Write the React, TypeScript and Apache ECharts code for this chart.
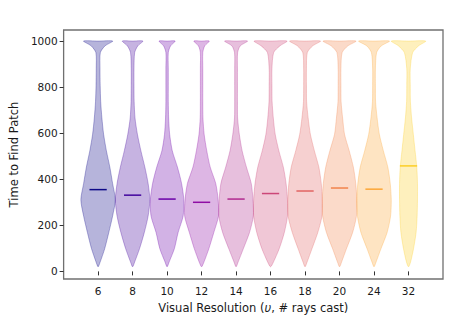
import React, { useEffect, useRef } from "react";
import * as echarts from "echarts";

const categories = ["6", "8", "10", "12", "14", "16", "18", "20", "24", "32"];
const positions = [1, 2, 3, 4, 5, 6, 7, 8, 9, 10];
const means = [355, 331, 314, 300, 314, 338, 349, 362, 357, 458];
// value levels at which violin widths are read (bottom to top)
const levels = [20, 41, 98, 169, 240, 311, 382, 453, 524, 595, 666, 737, 808, 879, 950, 979, 1000];
// relative density (1 = full violin width) at each level, per violin
const dens6 = [0, 0.12, 0.38, 0.62, 0.84, 1.0, 0.84, 0.68, 0.48, 0.32, 0.22, 0.15, 0.12, 0.11, 0.13, 0.4, 0.85];
const dens8 = [0, 0.12, 0.4, 0.68, 0.9, 1.0, 0.9, 0.71, 0.48, 0.28, 0.14, 0.09, 0.08, 0.08, 0.12, 0.3, 0.6];
const dens10 = [0, 0.12, 0.42, 0.64, 0.93, 0.97, 0.84, 0.6, 0.3, 0.15, 0.09, 0.07, 0.07, 0.07, 0.07, 0.2, 0.47];
const dens12 = [0, 0.14, 0.42, 0.71, 0.98, 0.96, 0.82, 0.5, 0.3, 0.15, 0.08, 0.07, 0.07, 0.07, 0.07, 0.18, 0.45];
const dens14 = [0, 0.12, 0.42, 0.78, 1.0, 0.98, 0.88, 0.6, 0.35, 0.19, 0.09, 0.08, 0.08, 0.08, 0.09, 0.24, 0.67];
const dens16 = [0, 0.17, 0.5, 0.8, 0.98, 0.98, 0.9, 0.74, 0.48, 0.27, 0.16, 0.09, 0.08, 0.08, 0.18, 0.54, 0.96];
const dens18 = [0, 0.12, 0.4, 0.74, 0.98, 1.0, 0.94, 0.8, 0.54, 0.31, 0.18, 0.09, 0.08, 0.08, 0.13, 0.44, 0.9];
const dens20 = [0, 0.12, 0.4, 0.76, 0.98, 1.0, 0.94, 0.8, 0.56, 0.29, 0.18, 0.09, 0.08, 0.08, 0.15, 0.48, 0.96];
const dens24 = [0, 0.12, 0.4, 0.76, 0.96, 1.0, 0.94, 0.8, 0.54, 0.31, 0.18, 0.09, 0.08, 0.08, 0.15, 0.42, 0.9];
const dens32 = [0, 0.12, 0.29, 0.44, 0.5, 0.52, 0.52, 0.48, 0.38, 0.28, 0.18, 0.11, 0.1, 0.1, 0.24, 0.58, 1.0];
const densities = [dens6, dens8, dens10, dens12, dens14, dens16, dens18, dens20, dens24, dens32];
const colors = ["#0d0887", "#41049d", "#6a00a8", "#8f0da4", "#b12a90", "#cc4778", "#e16462", "#f2844b", "#fca636", "#fcce25"];
const yTicks = [0, 200, 400, 600, 800, 1000];

function rgba(hex: string, a: number) {
  const n = parseInt(hex.slice(1), 16);
  return `rgba(${(n >> 16) & 255},${(n >> 8) & 255},${n & 255},${a})`;
}

const FONT = "DejaVu Sans";
const TEXT = "#1a1a1a";
const FS = 10.5;
const NFS = 11.5;

export default function App() {
  const ref = useRef<HTMLDivElement>(null);
  useEffect(() => {
    if (!ref.current) return;
    const chart = echarts.init(ref.current, undefined, { renderer: "svg" });
    const option: any = {
      animation: false,
      grid: { left: 62, right: 31, top: 30, bottom: 36, show: true, borderColor: "#707070", borderWidth: 1.3, backgroundColor: "transparent" },
      xAxis: {
        type: "value",
        min: 0,
        max: 11,
        axisLine: { show: false },
        splitLine: { show: false },
        axisTick: { show: true, customValues: positions, length: 4, lineStyle: { color: "#333" } },
        axisLabel: {
          customValues: positions,
          formatter: (v: number) => categories[Math.round(v) - 1] ?? "",
          fontFamily: FONT,
          fontSize: FS,
          color: TEXT,
          margin: 6,
        },
        name: "{a|Visual Resolution (}{b|υ}{a|, # rays cast)}",
        nameLocation: "middle",
        nameGap: 23,
        nameTextStyle: {
          rich: {
            a: { fontFamily: FONT, fontSize: NFS, color: TEXT },
            b: { fontFamily: FONT, fontSize: NFS, color: TEXT, fontStyle: "italic" },
          },
        },
      },
      yAxis: {
        type: "value",
        min: -33,
        max: 1048,
        axisLine: { show: false },
        splitLine: { show: false },
        axisTick: { show: true, customValues: yTicks, length: 4, lineStyle: { color: "#333" } },
        axisLabel: {
          customValues: yTicks,
          formatter: (v: number) => String(v),
          fontFamily: FONT,
          fontSize: FS,
          color: TEXT,
          margin: 6,
        },
        name: "Time to Find Patch",
        nameLocation: "middle",
        nameGap: 42,
        nameTextStyle: { fontFamily: FONT, fontSize: NFS, color: TEXT },
      },
      series: [
        {
          type: "custom",
          data: positions.map((p, i) => [p, means[i]]),
          renderItem: (params: any, api: any) => {
            const i = params.dataIndex;
            const pos = api.value(0);
            const d = densities[i];
            const col = colors[i];
            const right: number[][] = [];
            const left: number[][] = [];
            for (let k = 0; k < levels.length; k++) {
              right.push(api.coord([pos + 0.5 * d[k], levels[k]]));
              left.push(api.coord([pos - 0.5 * d[k], levels[k]]));
            }
            const topC = api.coord([pos, levels[levels.length - 1]]);
            const pts = [...right, topC, ...left.reverse().slice(0, -1)];
            const m1 = api.coord([pos - 0.25, means[i]]);
            const m2 = api.coord([pos + 0.25, means[i]]);
            return {
              type: "group",
              children: [
                {
                  type: "polygon",
                  shape: { points: pts, smooth: 0.25 },
                  style: { fill: rgba(col, 0.3), stroke: rgba(col, 0.3), lineWidth: 1 },
                },
                {
                  type: "line",
                  shape: { x1: m1[0], y1: m1[1], x2: m2[0], y2: m2[1] },
                  style: { stroke: col, lineWidth: 1.5 },
                },
              ],
            };
          },
        },
      ],
    };
    chart.setOption(option);
    return () => chart.dispose();
  }, []);
  return <div ref={ref} style={{ width: 474, height: 319, position: "absolute", left: 0, top: 0 }} />;
}
